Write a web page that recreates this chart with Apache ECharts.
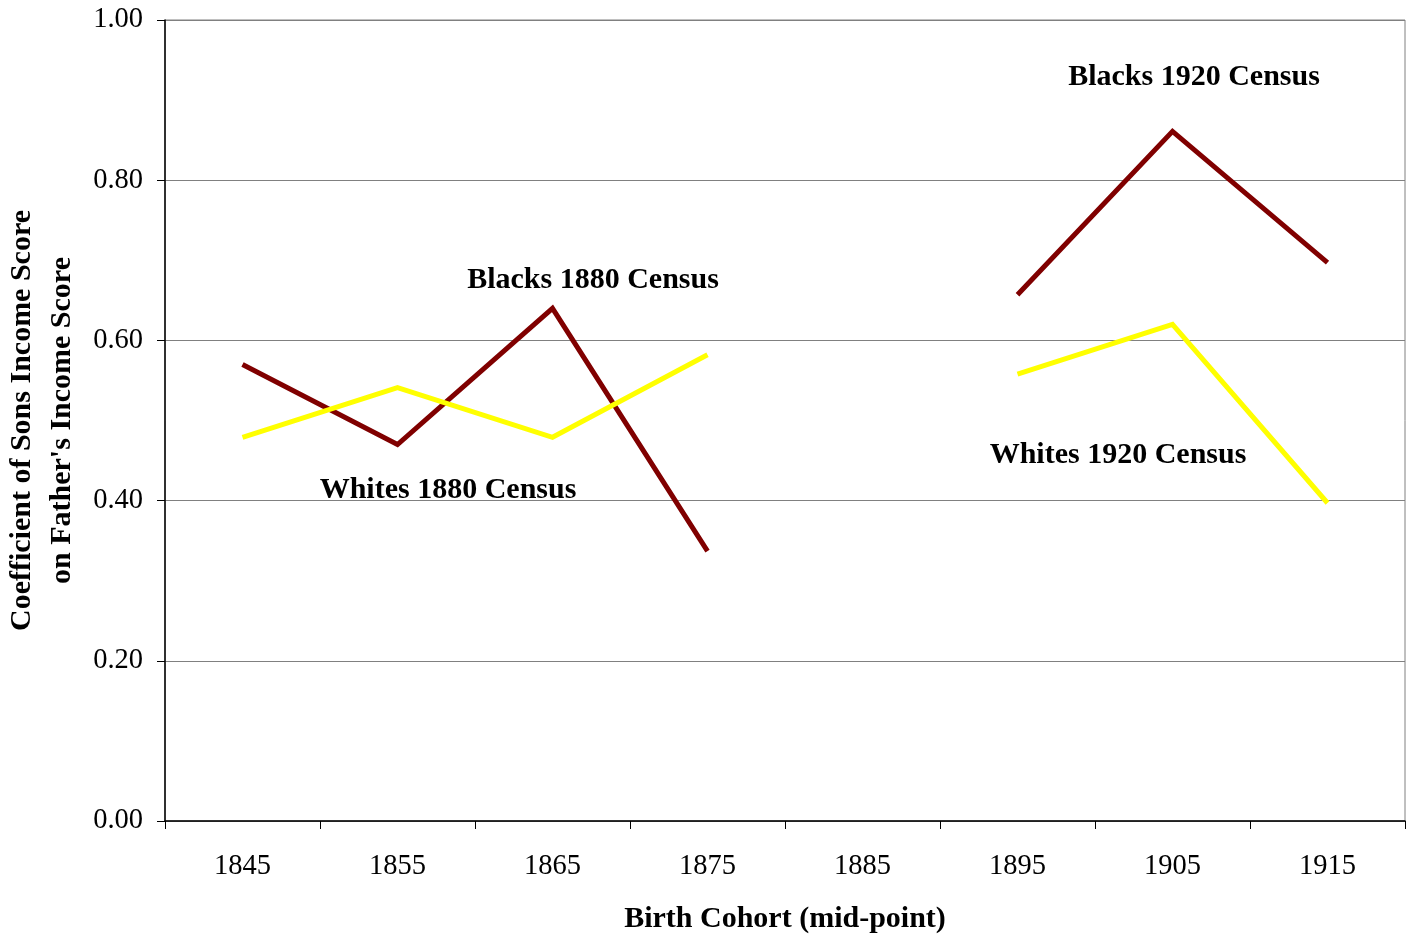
<!DOCTYPE html>
<html>
<head>
<meta charset="utf-8">
<script src="https://cdn.jsdelivr.net/npm/echarts@6/dist/echarts.min.js"></script>
<style>
  html, body { margin: 0; padding: 0; background: #fff; }
  #chart { width: 1406px; height: 936px; }
</style>
</head>
<body>
<div id="chart"></div>
<script>
// birth cohorts (mid-point)
const cohorts = ['1845', '1855', '1865', '1875', '1885', '1895', '1905', '1915']

// coefficients, null where no value
const blacks1880 = [0.57, 0.47, 0.64, 0.337, null, null, null, null]
const whites1880 = [0.479, 0.541, 0.479, 0.582, null, null, null, null]
const blacks1920 = [null, null, null, null, null, 0.657, 0.861, 0.697]
const whites1920 = [null, null, null, null, null, 0.558, 0.62, 0.397]

const yTicks = [0, 0.2, 0.4, 0.6, 0.8, 1.0]

const serif = '"Liberation Serif", "Times New Roman", serif'
const maroon = '#800000'
const yellow = '#FFFF00'

const chart = echarts.init(document.getElementById('chart'))

function lineSeries(name, data, color) {
  return {
    name: name,
    type: 'line',
    data: data,
    symbol: 'none',
    connectNulls: false,
    animation: false,
    lineStyle: { color: color, width: 5, join: 'miter' },
    z: 3
  }
}

// series captions, centred on (x, y)
function note(text, x, y) {
  return {
    type: 'text',
    x: x,
    y: y,
    style: {
      text: text,
      font: 'bold 30px ' + serif,
      fill: '#000',
      align: 'center',
      verticalAlign: 'middle',
      textAlign: 'center',
      textVerticalAlign: 'middle'
    }
  }
}

chart.setOption({
  backgroundColor: '#fff',
  animation: false,
  grid: {
    left: 165,
    top: 20,
    right: 1,
    bottom: 115,
    containLabel: false,
    outerBoundsMode: 'none',
    show: true,
    borderColor: '#808080',
    borderWidth: 1
  },
  xAxis: {
    type: 'category',
    data: cohorts,
    boundaryGap: true,
    name: 'Birth Cohort (mid-point)',
    nameLocation: 'middle',
    nameGap: 83,
    nameTextStyle: { fontFamily: serif, fontSize: 30, fontWeight: 'bold', color: '#000' },
    axisLine: { lineStyle: { color: '#000', width: 1.5 } },
    axisTick: { show: true, alignWithLabel: false, length: 8, lineStyle: { color: '#000' } },
    axisLabel: { fontFamily: serif, fontSize: 28.5, color: '#000', margin: 31 },
    splitLine: { show: false }
  },
  yAxis: {
    type: 'value',
    min: 0,
    max: 1,
    interval: 0.2,
    name: 'Coefficient of Sons Income Score\non Father\'s Income Score',
    nameLocation: 'middle',
    nameGap: 83,
    nameTextStyle: { fontFamily: serif, fontSize: 30, fontWeight: 'bold', color: '#000', lineHeight: 40 },
    axisLine: { show: true, lineStyle: { color: '#000', width: 1.5 } },
    axisTick: { show: true, inside: false, length: 8, lineStyle: { color: '#000' } },
    axisLabel: {
      fontFamily: serif,
      fontSize: 28.5,
      color: '#000',
      margin: 22,
      formatter: v => yTicks.some(t => Math.abs(t - v) < 1e-9) ? v.toFixed(2) : ''
    },
    splitLine: { show: true, lineStyle: { color: '#808080', width: 1 } }
  },
  series: [
    lineSeries('Blacks 1880 Census', blacks1880, maroon),
    lineSeries('Whites 1880 Census', whites1880, yellow),
    lineSeries('Blacks 1920 Census', blacks1920, maroon),
    lineSeries('Whites 1920 Census', whites1920, yellow)
  ],
  graphic: [
    note('Blacks 1920 Census', 1194, 77),
    note('Blacks 1880 Census', 593, 280),
    note('Whites 1880 Census', 448, 490),
    note('Whites 1920 Census', 1118, 455)
  ]
})
</script>
</body>
</html>
